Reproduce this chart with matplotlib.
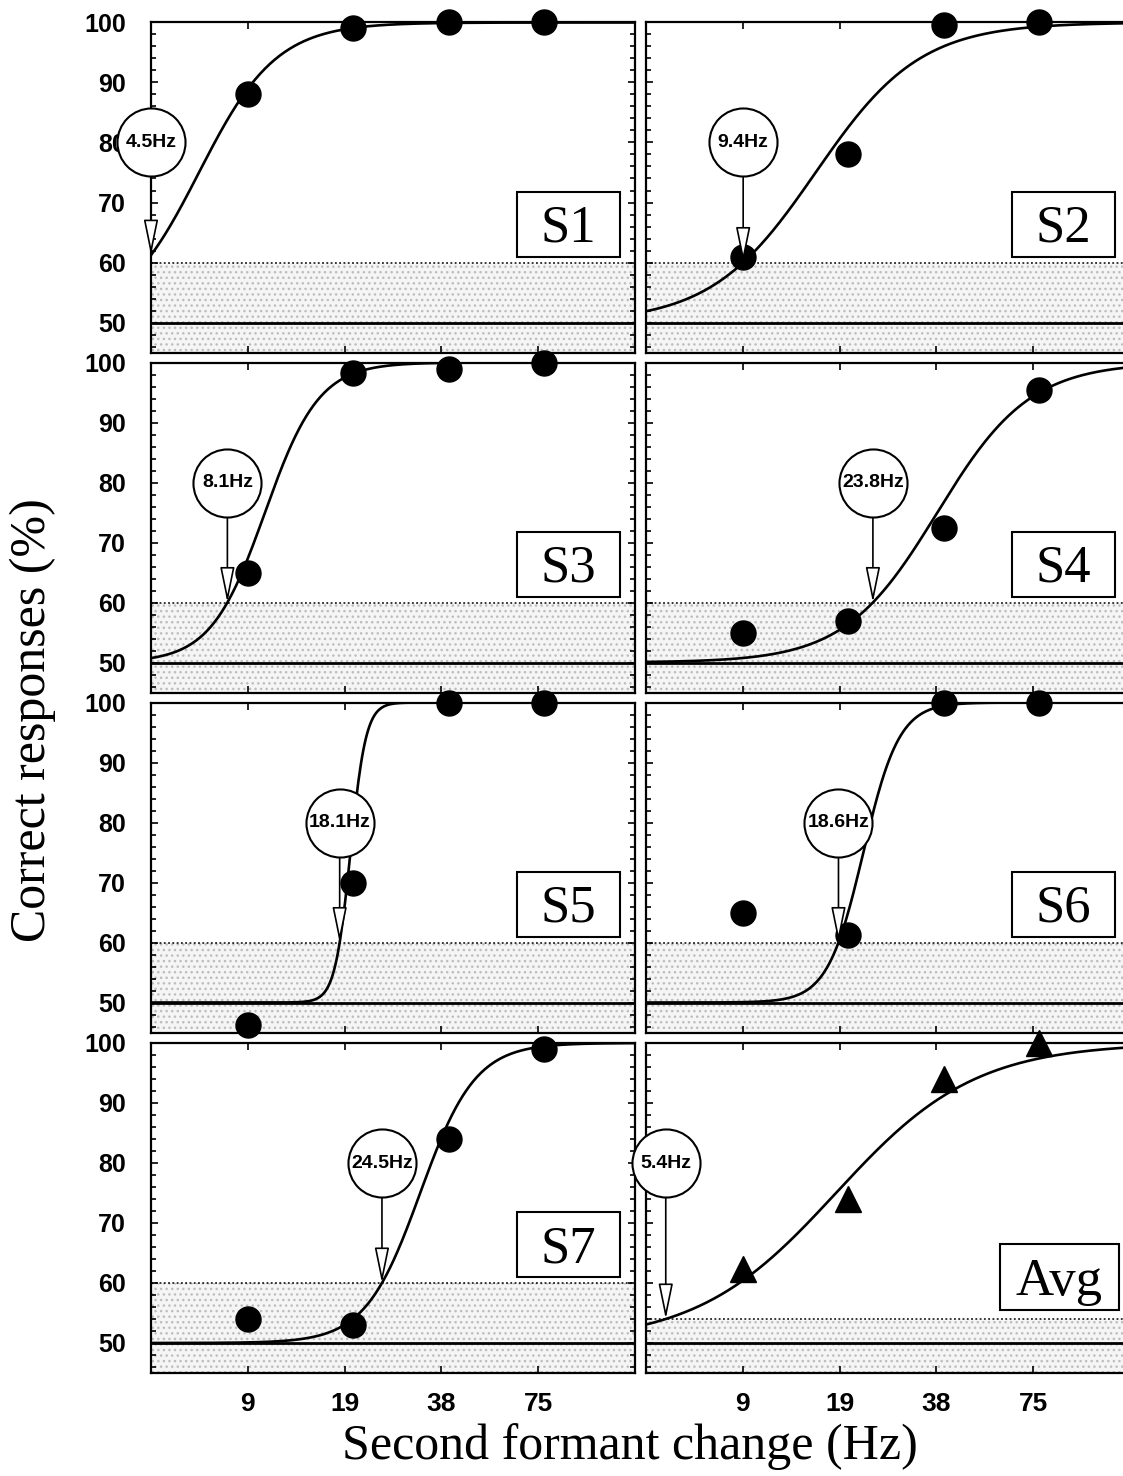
import numpy as np
import matplotlib
matplotlib.use("Agg")
import matplotlib.pyplot as plt
from matplotlib.patches import Rectangle
from matplotlib.ticker import FixedLocator, NullLocator, MultipleLocator

# Stimulus levels (Hz) and axis ticks
level_hz = [9.375, 19.9, 39.6, 78.1]
tick_hz = [9.375, 18.75, 37.5, 75.0]
tick_labels = ["9", "19", "38", "75"]

# Percent correct per listener at each level
s1_pct = [88.0, 99.0, 100.0, 100.0]
s2_pct = [61.0, 78.0, 99.5, 100.0]
s3_pct = [65.0, 98.3, 99.0, 100.0]
s4_pct = [55.0, 57.0, 72.5, 95.5]
s5_pct = [46.3, 70.0, 100.0, 100.0]
s6_pct = [65.0, 61.3, 100.0, 100.0]
s7_pct = [54.0, 53.0, 84.0, 99.0]
avg_pct = [62.3, 74.0, 94.0, 100.0]

panel_names = ["S1", "S2", "S3", "S4", "S5", "S6", "S7", "Avg"]
# Fitted thresholds (Hz), fit spread (octaves) and criterion level (%)
threshold_hz = [4.5, 9.4, 8.1, 23.8, 18.1, 18.6, 24.5, 5.4]
spread_oct = [0.40, 0.54, 0.28, 0.48, 0.08, 0.185, 0.285, 0.72]
criterion_pct = [60, 60, 60, 60, 60, 60, 60, 54]

all_pct = [s1_pct, s2_pct, s3_pct, s4_pct, s5_pct, s6_pct, s7_pct, avg_pct]

XMIN, XMAX = 4.6875, 150.0
YMIN, YMAX = 45.0, 100.0


def psychometric(f, thr, spread, crit):
    """Logistic in log2 frequency from 50% to 100%, passing crit at thr."""
    pc = (crit - 50.0) / 50.0
    mid = np.log2(thr) - spread * np.log(pc / (1 - pc))
    return 50.0 + 50.0 / (1.0 + np.exp(-(np.log2(f) - mid) / spread))


W, H = 1123, 1476
fig = plt.figure(figsize=(W / 100, H / 100), dpi=100)
fig.patch.set_facecolor("white")

col_x = [151, 646]
col_w = 484
row_top = [22.5, 362.5, 702.5, 1043]
row_h = 330

sans = ["Liberation Sans", "DejaVu Sans"]
serif = ["Liberation Serif", "DejaVu Serif"]

for i, name in enumerate(panel_names):
    r, c = divmod(i, 2)
    ax = fig.add_axes([col_x[c] / W, 1 - (row_top[r] + row_h) / H,
                       col_w / W, row_h / H])
    ax.set_xscale("log", base=2)
    ax.set_xlim(XMIN, XMAX)
    ax.set_ylim(YMIN, YMAX)
    crit = criterion_pct[i]

    # stippled band below the criterion
    ax.axhspan(YMIN, crit, facecolor="#f5f5f5", edgecolor="#bdbdbd",
               hatch="...", lw=0, zorder=0)
    ax.axhline(crit, color="black", lw=1.1, ls=(0, (1.2, 1.6)), zorder=1)
    ax.axhline(50, color="black", lw=2.0, zorder=1)

    # fitted curve
    xs = np.geomspace(XMIN, XMAX, 400)
    ax.plot(xs, psychometric(xs, threshold_hz[i], spread_oct[i], crit),
            color="black", lw=1.9, zorder=3)

    # data
    marker = "^" if name == "Avg" else "o"
    ms = 19 if name == "Avg" else 18
    ax.plot(level_hz, all_pct[i], ls="none", marker=marker, ms=ms,
            mfc="black", mec="black", clip_on=False, zorder=4)

    # threshold marker: circled value with arrow down to the curve
    thr = threshold_hz[i]
    ax_thr = max(thr, XMIN)
    circ_y = 80.0
    radius_units = 34 / (row_h / (YMAX - YMIN))
    tip_y = float(psychometric(ax_thr, thr, spread_oct[i], crit))
    ax.annotate("", xy=(ax_thr, tip_y), xytext=(ax_thr, circ_y - radius_units),
                arrowprops=dict(arrowstyle="-|>,head_length=2.2,head_width=0.45",
                                mutation_scale=10, fc="white", ec="black",
                                lw=1.2, shrinkA=0, shrinkB=0),
                zorder=5, annotation_clip=False)
    ax.plot([ax_thr], [circ_y], marker="o", ms=49, mfc="white", mec="black",
            mew=1.5, clip_on=False, zorder=6)
    ax.text(ax_thr, circ_y, f"{thr:g}Hz", ha="center", va="center",
            fontsize=14, fontweight="bold", family=sans, zorder=7,
            clip_on=False)

    # panel label box
    if name == "Avg":
        bw, bh, right, bottom = 119 / col_w, 66 / row_h, 0.977, 0.192
    else:
        bw, bh, right, bottom = 103 / col_w, 65 / row_h, 0.969, 0.29
    ax.add_patch(Rectangle((right - bw, bottom), bw, bh, transform=ax.transAxes,
                           facecolor="white", edgecolor="black", lw=1.5,
                           zorder=6))
    ax.text(right - bw / 2, bottom + 15 / row_h, name, transform=ax.transAxes,
            ha="center", va="baseline", fontsize=38, family=serif, zorder=7)

    # axes styling
    for sp in ax.spines.values():
        sp.set_linewidth(1.6)
    ax.xaxis.set_major_locator(FixedLocator(tick_hz))
    ax.xaxis.set_minor_locator(NullLocator())
    ax.set_xticklabels(tick_labels)
    ax.yaxis.set_major_locator(MultipleLocator(10))
    ax.yaxis.set_minor_locator(MultipleLocator(2))
    ax.tick_params(which="both", direction="in", top=True, right=True,
                   width=1.2)
    ax.tick_params(which="major", length=5)
    ax.tick_params(which="minor", length=3.5)
    ax.tick_params(axis="y", pad=18)
    ax.tick_params(axis="x", pad=14)
    ax.tick_params(labelbottom=(r == 3), labelleft=(c == 0))
    for lab in ax.get_yticklabels():
        lab.set_fontsize(18)
        lab.set_fontweight("bold")
        lab.set_family(sans)
    for lab in ax.get_xticklabels():
        lab.set_fontsize(19)
        lab.set_fontweight("bold")
        lab.set_family(sans)

fig.text(33 / W, 1 - 720 / H, "Correct responses (%)", rotation=90,
         ha="center", va="center", fontsize=36, family=serif)
fig.text(630 / W, 1 - 1447 / H, "Second formant change (Hz)",
         ha="center", va="center", fontsize=36, family=serif)

fig.savefig("out.png", dpi=100, facecolor="white")
